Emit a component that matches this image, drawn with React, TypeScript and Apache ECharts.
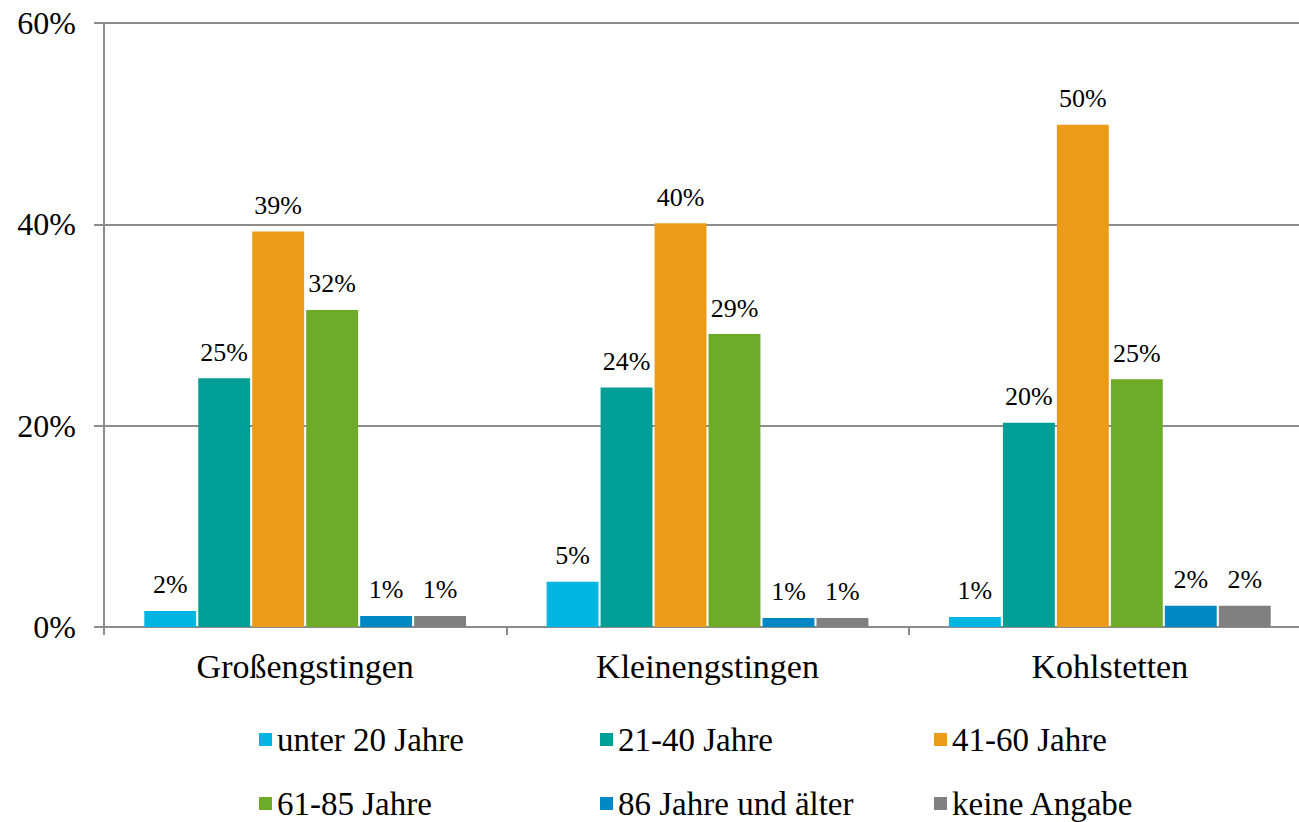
import React, { useEffect, useRef } from "react";
import * as echarts from "echarts";

const categories = ["Großengstingen", "Kleinengstingen", "Kohlstetten"];
const seriesNames = ["unter 20 Jahre", "21-40 Jahre", "41-60 Jahre", "61-85 Jahre", "86 Jahre und älter", "keine Angabe"];
const under20 = [1.6, 4.5, 1.0];
const age21to40 = [24.7, 23.8, 20.3];
const age41to60 = [39.3, 40.1, 49.9];
const age61to85 = [31.5, 29.1, 24.6];
const age86plus = [1.1, 0.9, 2.1];
const noAnswer = [1.1, 0.9, 2.1];
const yTicks = [0, 20, 40, 60];
const colors = ["#00B5E2", "#009E94", "#EC9B19", "#6DAB29", "#0088C5", "#808080"];

const FONT = "Liberation Serif";

export default function App() {
  const ref = useRef<HTMLDivElement>(null);
  useEffect(() => {
    if (!ref.current) return;
    const chart = echarts.init(ref.current, undefined, { renderer: "svg" });
    const values = [under20, age21to40, age41to60, age61to85, age86plus, noAnswer];
    const legendPos = [
      { left: 254, top: 718 },
      { left: 595, top: 718 },
      { left: 929, top: 718 },
      { left: 254, top: 782 },
      { left: 595, top: 782 },
      { left: 929, top: 782 },
    ];
    chart.setOption({
      animation: false,
      textStyle: { fontFamily: FONT },
      grid: { left: 104, top: 23, height: 604, width: 1207, outerBoundsMode: "none", containLabel: false },
      legend: seriesNames.map((n, i) => ({
        data: [n],
        left: legendPos[i].left,
        top: legendPos[i].top,
        itemWidth: 13,
        itemHeight: 13,
        itemGap: 8,
        icon: "rect",
        textStyle: { fontFamily: FONT, fontSize: 33, color: "#000" },
      })),
      xAxis: {
        type: "category",
        data: categories,
        axisLine: { lineStyle: { color: "#8c8c8c", width: 2 } },
        axisTick: { show: true, length: 8, interval: 0, lineStyle: { color: "#8c8c8c", width: 2 } },
        axisLabel: { fontFamily: FONT, fontSize: 34, color: "#000", margin: 22 },
      },
      yAxis: {
        type: "value",
        min: yTicks[0],
        max: yTicks[yTicks.length - 1],
        interval: 20,
        axisLine: { show: true, lineStyle: { color: "#8c8c8c", width: 2 } },
        axisTick: { show: true, length: 10, inside: false, lineStyle: { color: "#8c8c8c", width: 2 } },
        splitLine: { lineStyle: { color: "#8c8c8c", width: 2 } },
        axisLabel: { fontFamily: FONT, fontSize: 32, color: "#000", margin: 28, formatter: (v: number) => v + "%" },
      },
      series: seriesNames.map((n, i) => ({
        name: n,
        type: "bar",
        data: values[i],
        barWidth: "12.9%",
        barGap: "4%",
        barCategoryGap: "20%",
        itemStyle: { color: colors[i] },
        label: {
          show: true,
          position: "top",
          distance: 13,
          fontFamily: FONT,
          fontSize: 26,
          color: "#000",
          formatter: (p: any) => Math.round(p.value) + "%",
        },
      })),
    });
    return () => chart.dispose();
  }, []);
  return <div ref={ref} style={{ position: "fixed", left: 0, top: 0, width: 1299, height: 822, background: "#fff" }} />;
}
